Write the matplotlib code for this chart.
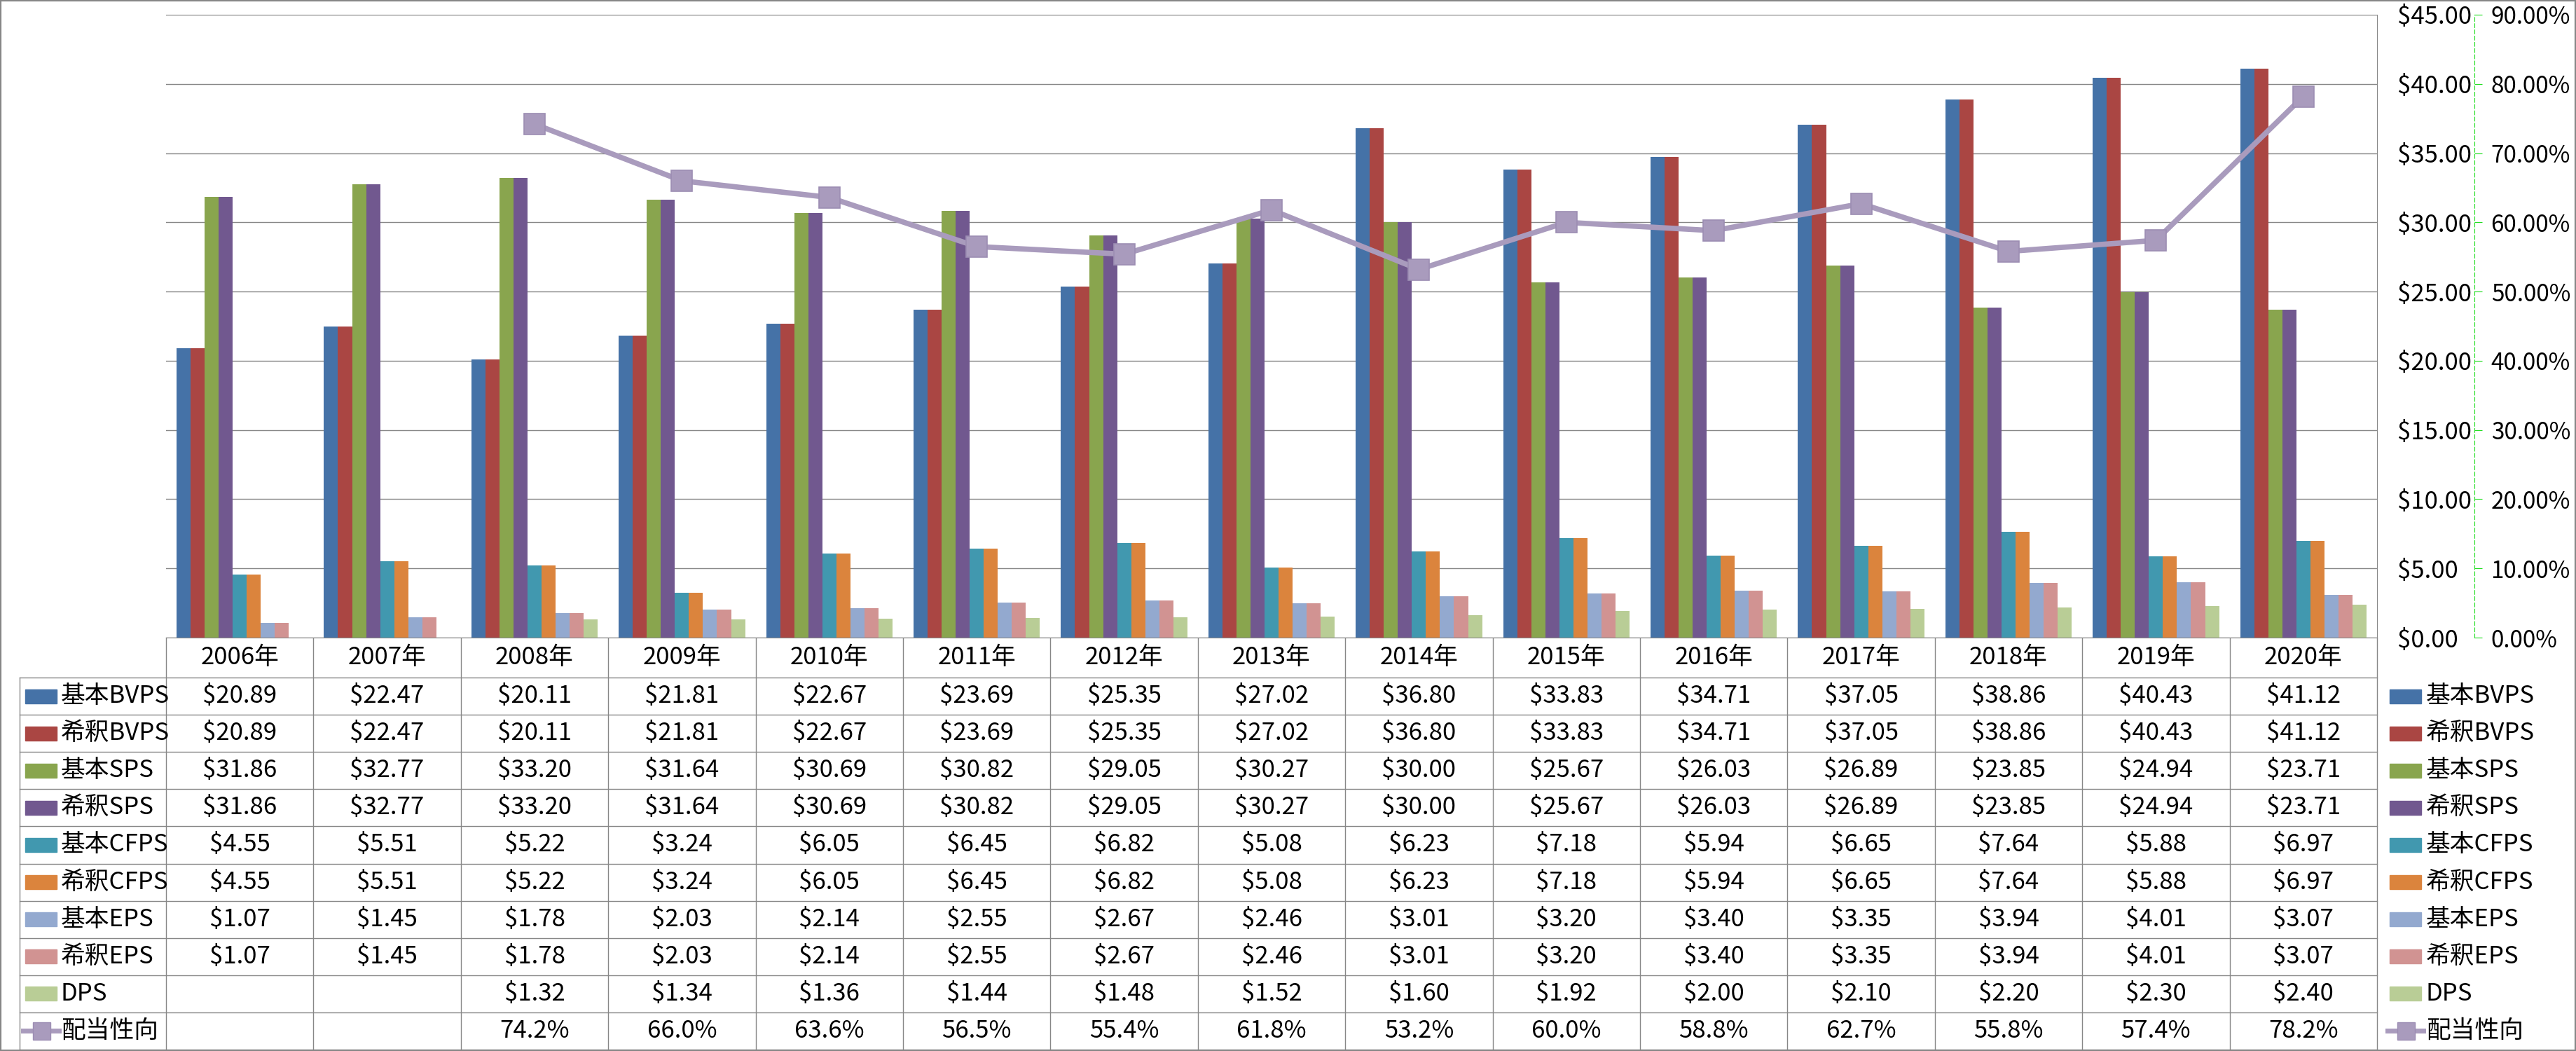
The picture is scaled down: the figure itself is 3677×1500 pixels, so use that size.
import numpy as np
import matplotlib.pyplot as plt
from matplotlib import transforms
from matplotlib.patches import Rectangle
from matplotlib.ticker import FuncFormatter, MultipleLocator

plt.rcParams['font.family'] = ['Noto Sans CJK JP', 'DejaVu Sans']

years = ['2006年', '2007年', '2008年', '2009年', '2010年', '2011年', '2012年', '2013年',
         '2014年', '2015年', '2016年', '2017年', '2018年', '2019年', '2020年']

basic_bvps = [20.89, 22.47, 20.11, 21.81, 22.67, 23.69, 25.35, 27.02, 36.80, 33.83, 34.71, 37.05, 38.86, 40.43, 41.12]
dil_bvps = [20.89, 22.47, 20.11, 21.81, 22.67, 23.69, 25.35, 27.02, 36.80, 33.83, 34.71, 37.05, 38.86, 40.43, 41.12]
basic_sps = [31.86, 32.77, 33.20, 31.64, 30.69, 30.82, 29.05, 30.27, 30.00, 25.67, 26.03, 26.89, 23.85, 24.94, 23.71]
dil_sps = [31.86, 32.77, 33.20, 31.64, 30.69, 30.82, 29.05, 30.27, 30.00, 25.67, 26.03, 26.89, 23.85, 24.94, 23.71]
basic_cfps = [4.55, 5.51, 5.22, 3.24, 6.05, 6.45, 6.82, 5.08, 6.23, 7.18, 5.94, 6.65, 7.64, 5.88, 6.97]
dil_cfps = [4.55, 5.51, 5.22, 3.24, 6.05, 6.45, 6.82, 5.08, 6.23, 7.18, 5.94, 6.65, 7.64, 5.88, 6.97]
basic_eps = [1.07, 1.45, 1.78, 2.03, 2.14, 2.55, 2.67, 2.46, 3.01, 3.20, 3.40, 3.35, 3.94, 4.01, 3.07]
dil_eps = [1.07, 1.45, 1.78, 2.03, 2.14, 2.55, 2.67, 2.46, 3.01, 3.20, 3.40, 3.35, 3.94, 4.01, 3.07]
dps = [np.nan, np.nan, 1.32, 1.34, 1.36, 1.44, 1.48, 1.52, 1.60, 1.92, 2.00, 2.10, 2.20, 2.30, 2.40]
payout = [np.nan, np.nan, 74.2, 66.0, 63.6, 56.5, 55.4, 61.8, 53.2, 60.0, 58.8, 62.7, 55.8, 57.4, 78.2]

bar_names = ['基本BVPS', '希釈BVPS', '基本SPS', '希釈SPS', '基本CFPS', '希釈CFPS', '基本EPS', '希釈EPS', 'DPS']
bar_series = [basic_bvps, dil_bvps, basic_sps, dil_sps, basic_cfps, dil_cfps, basic_eps, dil_eps, dps]
bar_colors = ['#4572A7', '#AA4643', '#89A54E', '#71588F', '#4198AF', '#DB843D', '#93A9CF', '#D19392', '#B9CD96']
line_name = '配当性向'
line_color = '#A99BBD'

# ---- layout (pixels of the 3677x1500 output) ----
W, H = 3677, 1500
PL, PR, PT, PB = 237, 3393, 21, 910
HDR_B = 967
ROW = (1498 - HDR_B) / 10
TL = 28
FS = 25
GRID = '#878787'

fig = plt.figure(figsize=(W / 100, H / 100), dpi=100)
ax = fig.add_axes([PL / W, 1 - PB / H, (PR - PL) / W, (PB - PT) / H])

x = np.arange(len(years))
nb = len(bar_series)
bw = 1 / (nb + 1.5)
for k, (vals, col) in enumerate(zip(bar_series, bar_colors)):
    ax.bar(x + (k - (nb - 1) / 2) * bw, vals, bw, color=col, zorder=2)

ax2 = ax.twinx()

ax.set_xlim(-0.5, len(years) - 0.5)
ax.set_ylim(0, 45)
ax.yaxis.set_major_locator(MultipleLocator(5))
ax.yaxis.set_major_formatter(FuncFormatter(lambda v, p: '${:.2f}'.format(v)))
ax.yaxis.tick_right()
ax.tick_params(axis='y', length=0, pad=21, labelsize=FS)
ax.set_xticks([])
ax.yaxis.grid(True, color=GRID, lw=1.0)
ax.set_axisbelow(True)
for s in ['top', 'left']:
    ax.spines[s].set_visible(False)
ax.spines['right'].set_color(GRID)
ax.spines['bottom'].set_color(GRID)

ax2.plot(x, payout, color=line_color, lw=5.5, marker='s', markersize=21,
         markerfacecolor=line_color, markeredgecolor='#9C8DB3', markeredgewidth=1.2, zorder=5)
ax2.set_ylim(0, 90)
ax2.yaxis.set_major_locator(MultipleLocator(10))
ax2.yaxis.set_major_formatter(FuncFormatter(lambda v, p: '{:.2f}%'.format(v)))
for s in ['top', 'left', 'bottom']:
    ax2.spines[s].set_visible(False)
ax2.spines['right'].set_position(('axes', (3532 - PL) / (PR - PL)))
ax2.spines['right'].set_color('#22DD22')
ax2.spines['right'].set_linestyle((0, (5, 3)))
ax2.spines['right'].set_linewidth(0.8)
ax2.tick_params(axis='y', colors='#22DD22', labelcolor='black', length=8, width=0.8,
                pad=9, labelsize=24)

# ---- data table + legend ----
tab = fig.add_axes([0, 0, 1, 1], zorder=-1)
tab.set_xlim(0, W)
tab.set_ylim(H, 0)
tab.axis('off')
bt = transforms.blended_transform_factory(ax.transData, tab.transData)

rows_y = [HDR_B + ROW * k for k in range(11)]
for yb in rows_y:
    tab.plot([TL, PR], [yb, yb], color=GRID, lw=1.0)
tab.plot([TL, TL], [HDR_B, rows_y[-1]], color=GRID, lw=1.0)
for b in np.arange(len(years) + 1) - 0.5:
    tab.plot([b, b], [PB, rows_y[-1]], color=GRID, lw=1.0, transform=bt)

for i, yr in enumerate(years):
    tab.text(i, (PB + HDR_B) / 2, yr, ha='center', va='center', fontsize=FS, transform=bt)

all_names = bar_names + [line_name]
for r, name in enumerate(all_names):
    yc = rows_y[r] + ROW / 2
    if r < nb:
        vals = bar_series[r]
        cells = ['' if np.isnan(v) else '${:.2f}'.format(v) for v in vals]
        tab.add_patch(Rectangle((36, yc - 10), 45, 20, color=bar_colors[r]))
        tab.add_patch(Rectangle((3411, yc - 10), 45, 20, color=bar_colors[r]))
    else:
        cells = ['' if np.isnan(v) else '{:.1f}%'.format(v) for v in payout]
        for xa, xb in [(33, 84), (3408, 3459)]:
            tab.plot([xa, xb], [yc, yc], color=line_color, lw=5)
            tab.plot([(xa + xb) / 2], [yc], marker='s', markersize=18, color=line_color,
                     markeredgecolor='#9C8DB3')
    tab.text(87, yc, name, ha='left', va='center', fontsize=FS)
    tab.text(3463, yc, name, ha='left', va='center', fontsize=FS)
    for i, c in enumerate(cells):
        tab.text(i, yc, c, ha='center', va='center', fontsize=FS, transform=bt)

tab.add_patch(Rectangle((0, 0), W, H, fill=False, edgecolor=GRID, lw=3, clip_on=False))

fig.savefig('out.png', dpi=100)
